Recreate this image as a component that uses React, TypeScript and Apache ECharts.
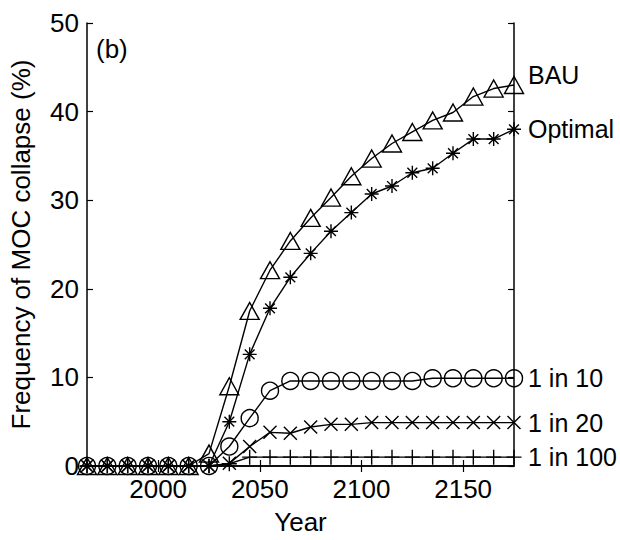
import React, { useEffect, useRef } from "react";
import * as echarts from "echarts";

const years = [1965, 1975, 1985, 1995, 2005, 2015, 2025, 2035, 2045, 2055, 2065, 2075, 2085, 2095, 2105, 2115, 2125, 2135, 2145, 2155, 2165, 2175];
const bau = [0, 0, 0, 0, 0, 0, 1.4, 9.0, 17.5, 22.1, 25.4, 28.0, 30.3, 32.7, 34.7, 36.4, 37.7, 39.0, 39.9, 41.7, 42.6, 43.0];
const optimal = [0, 0, 0, 0, 0, 0, 0, 5.0, 12.6, 17.8, 21.3, 24.0, 26.5, 28.6, 30.7, 31.6, 33.1, 33.6, 35.3, 36.9, 36.9, 38.0];
const oneIn10 = [0, 0, 0, 0, 0, 0, 0, 2.2, 5.4, 8.5, 9.6, 9.6, 9.6, 9.6, 9.6, 9.6, 9.6, 9.9, 9.9, 9.9, 9.9, 9.9];
const oneIn20 = [0, 0, 0, 0, 0, 0, 0, 0.3, 2.2, 3.8, 3.7, 4.4, 4.7, 4.7, 4.9, 4.9, 4.9, 4.9, 4.9, 4.9, 4.9, 4.9];
const oneIn100 = [0, 0, 0, 0, 0, 0, 0, 0.25, 1.0, 1.0, 1.0, 1.0, 1.0, 1.0, 1.0, 1.0, 1.0, 1.0, 1.0, 1.0, 1.0, 1.0];
const xTicks = [2000, 2050, 2100, 2150];
const seriesNames = ["BAU", "Optimal", "1 in 10", "1 in 20", "1 in 100"];

const FONT = "Liberation Sans, Arial, Helvetica, sans-serif";
const FS = 26;
const LABEL_FS = 25;

const symAsterisk = "path://M5,0L5,10M0,5L10,5M1.5,1.5L8.5,8.5M8.5,1.5L1.5,8.5";
const symX = "path://M0,0L10,10M10,0L0,10";
const symPlus = "path://M5,0L5,10M0,5L10,5";

export default function App() {
  const ref = useRef<HTMLDivElement>(null);
  useEffect(() => {
    if (!ref.current) return;
    const chart = echarts.init(ref.current, undefined, { renderer: "svg" });
    const pair = (vals: number[]) => years.map((y, i) => [y, vals[i]]);
    const mkSeries = (name: string, vals: number[], symbol: string, size: any, offset: number[] = [0, 0]) => ({
      name,
      type: "line",
      data: pair(vals),
      symbol,
      symbolSize: size,
      showAllSymbol: true,
      lineStyle: { color: "#000", width: 1.4 },
      itemStyle: { color: "rgba(0,0,0,0)", borderColor: "#000", borderWidth: 1.4 },
      clip: false,
      z: 3,
      endLabel: {
        show: true,
        formatter: name,
        color: "#000",
        fontSize: LABEL_FS,
        fontFamily: FONT,
        distance: 14,
        offset,
      },
      emphasis: { disabled: true },
    });
    const axisLine = { show: true, lineStyle: { color: "#000", width: 1.5 } };
    const tick = { show: true, inside: true, length: 6, lineStyle: { color: "#000", width: 1.2 } };
    chart.setOption({
      animation: false,
      backgroundColor: "#fff",
      grid: { left: 83, right: 106, top: 23, bottom: 71 },
      xAxis: [
        {
          type: "value",
          min: 1965,
          max: 2175,
          interval: 5,
          position: "bottom",
          name: "Year",
          nameLocation: "middle",
          nameGap: 43,
          nameTextStyle: { color: "#000", fontSize: FS, fontFamily: FONT },
          axisLine,
          splitLine: { show: false },
          axisTick: { ...tick, customValues: xTicks },
          axisLabel: {
            customValues: xTicks,
            color: "#000",
            fontSize: FS,
            fontFamily: FONT,
            margin: 10,
            formatter: (v: number) => String(v),
          },
        },
        {
          type: "value",
          min: 1965,
          max: 2175,
          interval: 5,
          position: "top",
          axisLine,
          splitLine: { show: false },
          axisTick: { ...tick, customValues: xTicks },
          axisLabel: { show: false },
        },
      ],
      yAxis: [
        {
          type: "value",
          min: 0,
          max: 50,
          interval: 10,
          position: "left",
          name: "Frequency of MOC collapse (%)",
          nameLocation: "middle",
          nameGap: 53,
          nameTextStyle: { color: "#000", fontSize: FS, fontFamily: FONT },
          axisLine,
          splitLine: { show: false },
          axisTick: tick,
          axisLabel: { color: "#000", fontSize: FS, fontFamily: FONT, margin: 8 },
        },
        {
          type: "value",
          min: 0,
          max: 50,
          interval: 10,
          position: "right",
          axisLine,
          splitLine: { show: false },
          axisTick: tick,
          axisLabel: { show: false },
        },
      ],
      graphic: [
        {
          type: "text",
          left: 96,
          top: 36,
          style: { text: "(b)", fill: "#000", fontSize: FS, fontFamily: FONT },
        },
      ],
      series: [
        mkSeries(seriesNames[0], bau, "triangle", [19, 17], [0, -10]),
        mkSeries(seriesNames[1], optimal, symAsterisk, 14),
        mkSeries(seriesNames[2], oneIn10, "circle", 17),
        mkSeries(seriesNames[3], oneIn20, symX, 13),
        mkSeries(seriesNames[4], oneIn100, symPlus, 15),
      ],
    });
    return () => chart.dispose();
  }, []);
  return (
    <div
      ref={ref}
      style={{ position: "fixed", left: 0, top: 0, width: 620, height: 540, background: "#fff" }}
    />
  );
}
